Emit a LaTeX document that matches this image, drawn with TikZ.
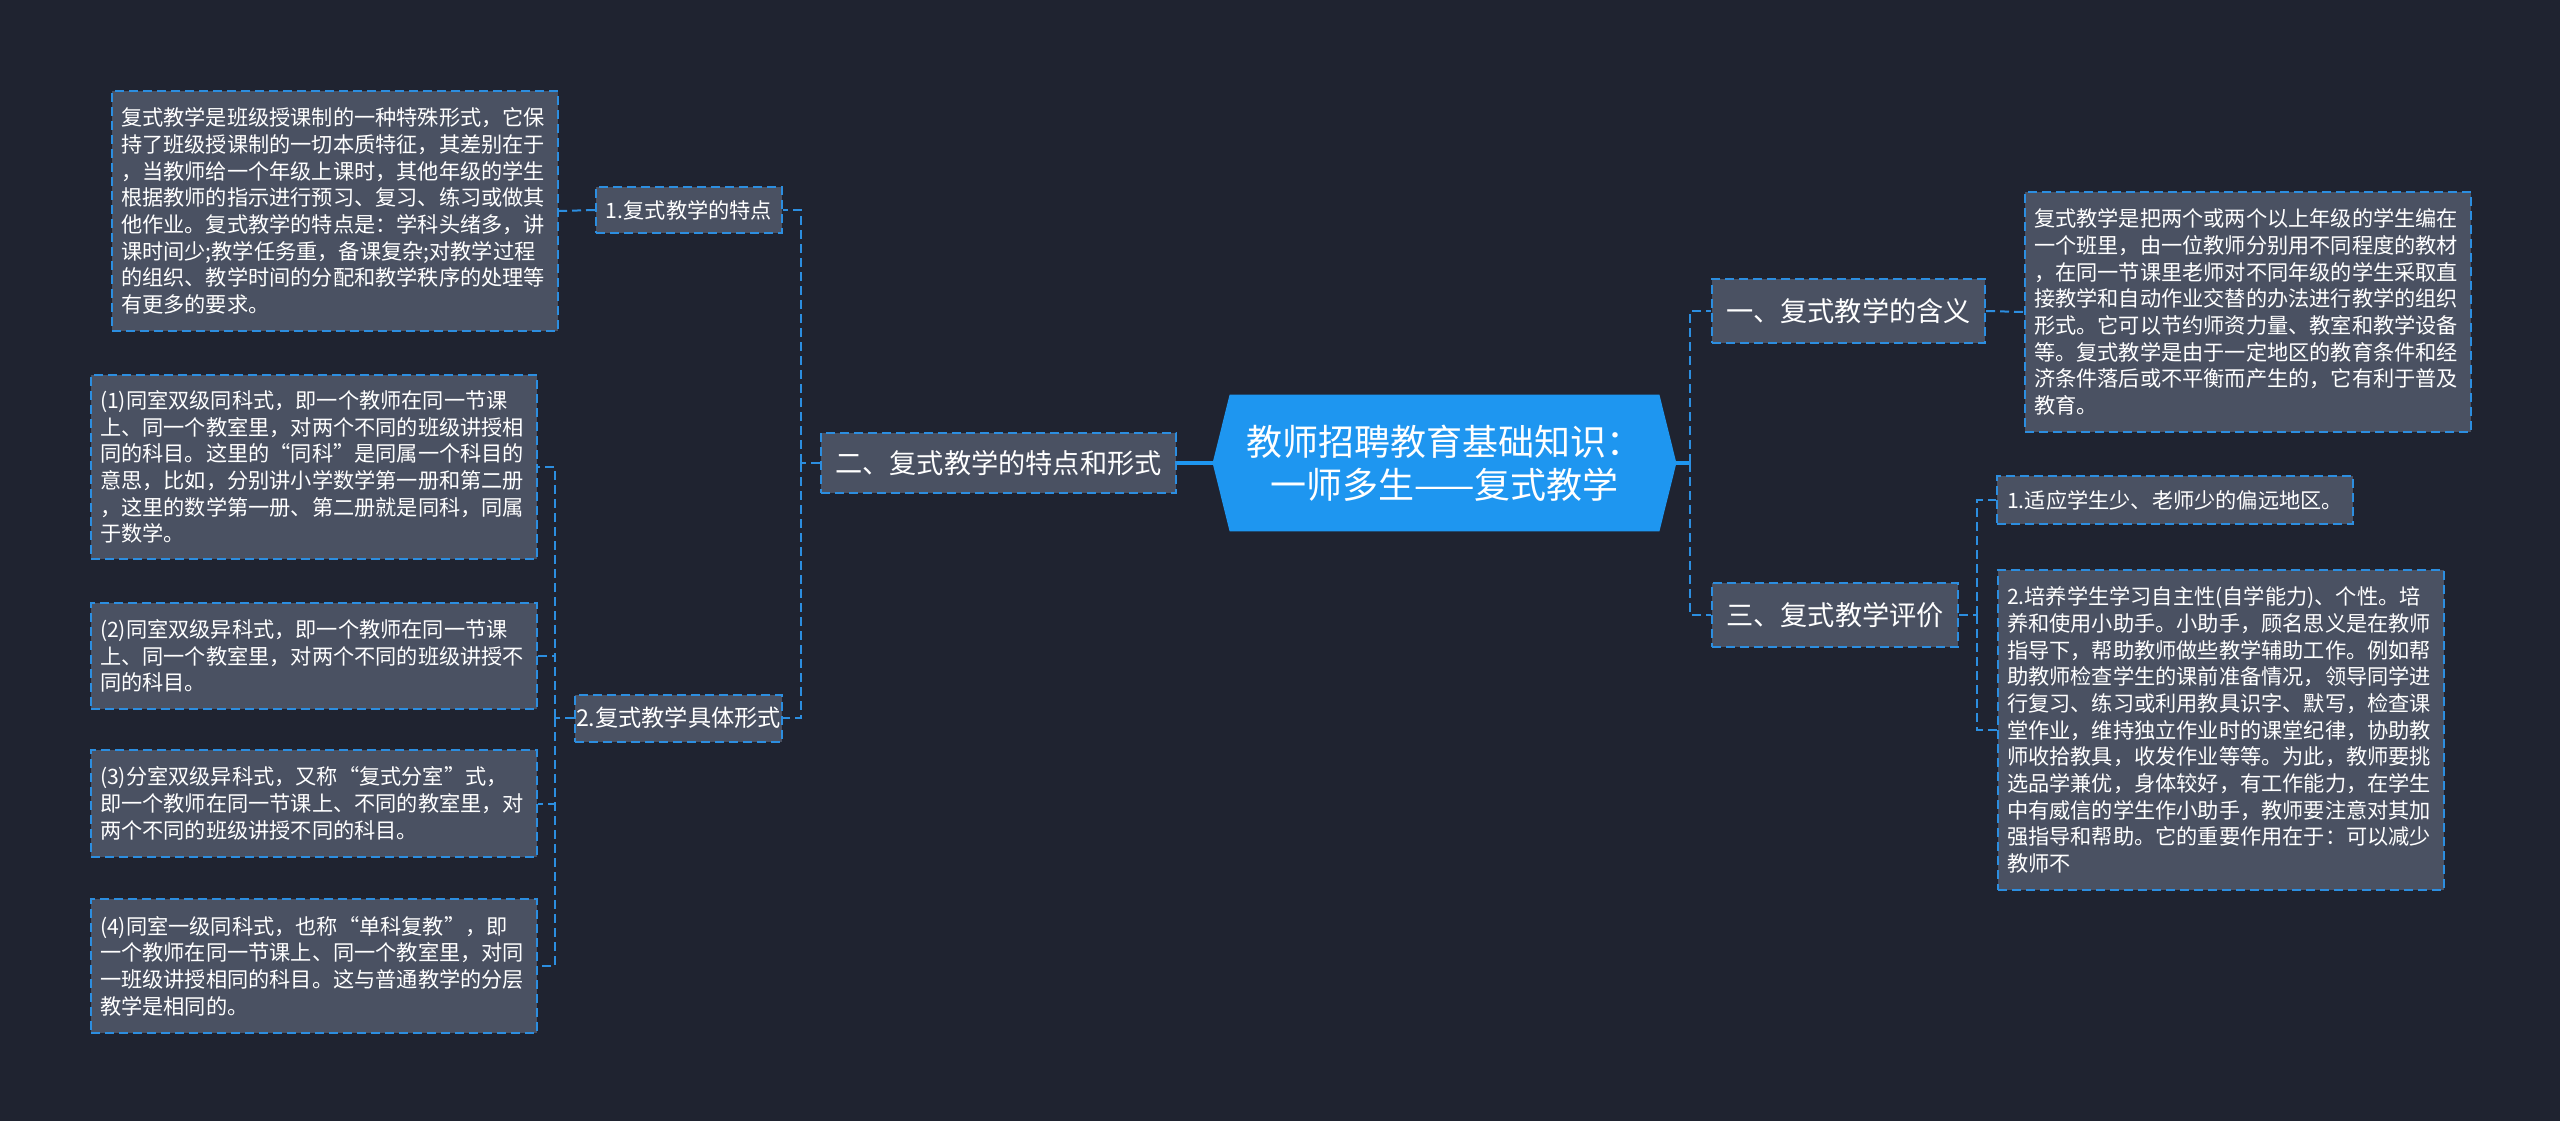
\documentclass[tikz,border=0pt]{standalone}
\usepackage{fontspec}
\newfontfamily\cjk{Noto Sans CJK SC}
\usetikzlibrary{backgrounds,calc}
\definecolor{bgc}{HTML}{1F2330}
\definecolor{nodef}{HTML}{4A5162}
\definecolor{bdr}{HTML}{2C8EE0}
\definecolor{rootf}{HTML}{1E96F0}
\begin{document}
\begin{tikzpicture}[x=0.5pt,y=-0.5pt,
  boxbase/.style={draw=bdr, line width=1pt, dash pattern=on 4.5pt off 2.5pt, fill=nodef, text=white, inner sep=0pt},
  leafbox/.style={boxbase, anchor=north west, align=left, text width=214pt, inner xsep=4.5pt, font=\cjk\fontsize{10.6}{13.35}\selectfont},
  midbox/.style={boxbase, align=center, font=\cjk\fontsize{13.6}{16}\selectfont},
  smallbox/.style={boxbase, align=center, font=\cjk\fontsize{10.6}{13}\selectfont},
  connline/.style={draw=bdr, line width=1pt, dash pattern=on 4.5pt off 2.5pt},
  rootline/.style={draw=rootf, line width=1.6pt}]
\useasboundingbox (0,0) rectangle (2560,1121);

% root
\node[font=\cjk\fontsize{18}{21.5}\selectfont, text=white, align=center,
      minimum width=231.5pt, minimum height=68pt, inner sep=0pt] (root) at (1444.5,463)
      {教师招聘教育基础知识：\\一师多生——复式教学};

% left branch
\node[midbox, minimum width=177.5pt, minimum height=30pt] (er) at (998.5,463) {二、复式教学的特点和形式};
\node[smallbox, minimum width=93pt, minimum height=23pt] (n1) at (689,210) {1.复式教学的特点};
\node[smallbox, minimum width=103.5pt, minimum height=23.5pt, font=\cjk\fontsize{11.6}{14}\selectfont] (n2) at (678.5,718) {2.复式教学具体形式};

\node[leafbox, minimum height=120pt] (A) at (111,90)
{复式教学是班级授课制的一种特殊形式，它保\\
持了班级授课制的一切本质特征，其差别在于\\
，当教师给一个年级上课时，其他年级的学生\\
根据教师的指示进行预习、复习、练习或做其\\
他作业。复式教学的特点是：学科头绪多，讲\\
课时间少;教学任务重，备课复杂;对教学过程\\
的组织、教学时间的分配和教学秩序的处理等\\
有更多的要求。};

\node[leafbox, minimum height=92pt] (B1) at (90,374)
{(1)同室双级同科式，即一个教师在同一节课\\
上、同一个教室里，对两个不同的班级讲授相\\
同的科目。这里的“同科”是同属一个科目的\\
意思，比如，分别讲小学数学第一册和第二册\\
，这里的数学第一册、第二册就是同科，同属\\
于数学。};

\node[leafbox, minimum height=53pt] (B2) at (90,602)
{(2)同室双级异科式，即一个教师在同一节课\\
上、同一个教室里，对两个不同的班级讲授不\\
同的科目。};

\node[leafbox, minimum height=53.5pt] (B3) at (90,749)
{(3)分室双级异科式，又称“复式分室”式，\\
即一个教师在同一节课上、不同的教室里，对\\
两个不同的班级讲授不同的科目。};

\node[leafbox, minimum height=67pt] (B4) at (90,898)
{(4)同室一级同科式，也称“单科复教”，即\\
一个教师在同一节课上、同一个教室里，对同\\
一班级讲授相同的科目。这与普通教学的分层\\
教学是相同的。};

% right branch
\node[midbox, minimum width=136.5pt, minimum height=32pt] (yi) at (1848.5,311) {一、复式教学的含义};
\node[midbox, minimum width=123pt, minimum height=32pt] (san) at (1835,615) {三、复式教学评价};

\node[leafbox, minimum height=120pt] (C) at (2024,191)
{复式教学是把两个或两个以上年级的学生编在\\
一个班里，由一位教师分别用不同程度的教材\\
，在同一节课里老师对不同年级的学生采取直\\
接教学和自动作业交替的办法进行教学的组织\\
形式。它可以节约师资力量、教室和教学设备\\
等。复式教学是由于一定地区的教育条件和经\\
济条件落后或不平衡而产生的，它有利于普及\\
教育。};

\node[smallbox, minimum width=178pt, minimum height=24pt] (D1) at (2175,500) {1.适应学生少、老师少的偏远地区。};

\node[leafbox, minimum height=160pt] (D2) at (1997,569)
{2.培养学生学习自主性(自学能力)、个性。培\\
养和使用小助手。小助手，顾名思义是在教师\\
指导下，帮助教师做些教学辅助工作。例如帮\\
助教师检查学生的课前准备情况，领导同学进\\
行复习、练习或利用教具识字、默写，检查课\\
堂作业，维持独立作业时的课堂纪律，协助教\\
师收拾教具，收发作业等等。为此，教师要挑\\
选品学兼优，身体较好，有工作能力，在学生\\
中有威信的学生作小助手，教师要注意对其加\\
强指导和帮助。它的重要作用在于：可以减少\\
教师不};

% junctions
\coordinate (jl) at (801,463);
\coordinate (jl2) at (555,718);
\coordinate (jr) at (1690,463);
\coordinate (jr2) at (1977,615);

% background and root shape
\begin{pgfonlayer}{background}
\fill[bgc] (0,0) rectangle (2560,1121);
\fill[rootf] (root.west) -- ($(root.north west)+(17,0)$) -- ($(root.north east)+(-17,0)$)
  -- (root.east) -- ($(root.south east)+(-17,0)$) -- ($(root.south west)+(17,0)$) -- cycle;
\end{pgfonlayer}

% connectors
\draw[rootline] (er.east) -- (root.west);
\draw[rootline] (root.east) -- (jr);
\draw[connline] (er.west) -- (jl);
\draw[connline] (jl) |- (n1.east);
\draw[connline] (jl) |- (n2.east);
\draw[connline] (n1.west) -- (A.east);
\draw[connline] (n2.west) -- (jl2);
\draw[connline] (jl2) |- (B1.east);
\draw[connline] (jl2) |- (B2.east);
\draw[connline] (jl2) |- (B3.east);
\draw[connline] (jl2) |- (B4.east);
\draw[connline] (jr) |- (yi.west);
\draw[connline] (jr) |- (san.west);
\draw[connline] (yi.east) -- (C.west);
\draw[connline] (san.east) -- (jr2);
\draw[connline] (jr2) |- (D1.west);
\draw[connline] (jr2) |- (D2.west);
\end{tikzpicture}
\end{document}
